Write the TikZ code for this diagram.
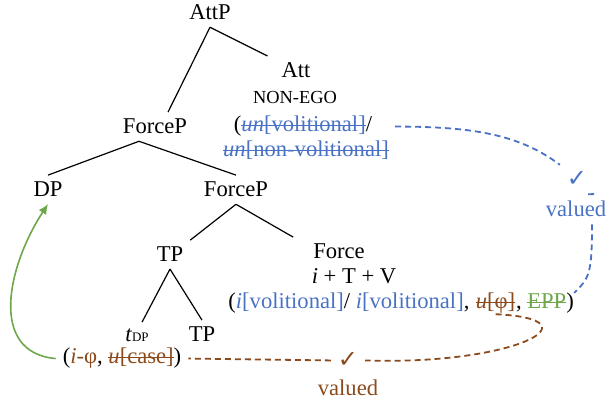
\documentclass[tikz,border=0pt]{standalone}
\usepackage{fontspec}
\setmainfont{Liberation Serif}
\newfontfamily\chkfont{DejaVu Sans}
\usepackage{tikz}
\usetikzlibrary{arrows.meta, calc}
\definecolor{featblue}{HTML}{4A72C4}
\definecolor{featbrown}{HTML}{8B4A1C}
\definecolor{featgreen}{HTML}{6FA84C}
\newcommand{\treefont}{\fontsize{11.3}{13.5}\selectfont}
\newcommand{\egofont}{\fontsize{9.2}{11}\selectfont}
\newcommand{\subfont}{\fontsize{6.5}{7.5}\selectfont}
\newcommand{\checkfont}{\chkfont\fontsize{12}{13}\selectfont}
\newsavebox{\strkbox}
\newcommand{\strk}[1]{\sbox{\strkbox}{#1}\rlap{\usebox{\strkbox}}\rule[0.26em]{\wd\strkbox}{0.45pt}}
\tikzset{
  cat/.style={anchor=base},
  feat/.style={anchor=base west, inner sep=0pt},
  branch/.style={line width=0.6pt},
  agree/.style={dash pattern=on 3pt off 2pt, line width=0.9pt},
  movearr/.style={-{Latex[length=5pt, width=4.5pt]}, line width=0.8pt, featgreen},
}

\begin{document}
\begin{tikzpicture}[x=0.5pt, y=0.5pt, every node/.style={font=\treefont}]
  \useasboundingbox (0,0) rectangle (606,406);

  % AttP and its head
  \node[cat] (attp) at (210,386) {AttP};
  \node[cat] (att) at (296,328) {Att};
  \node[cat, font=\egofont] (ego) at (295,302) {NON-EGO};
  \node[cat] (attf1) at (303,274) {(\textcolor{featblue}{\strk{\textit{un}[volitional]}}/};
  \node[cat] (attf2) at (306,249) {\textcolor{featblue}{\strk{\textit{un}[non-volitional]}}};

  % ForceP level
  \node[cat] (forcep) at (155,272) {ForceP};
  \node[cat] (dp) at (48,209) {DP};
  \node[cat] (forcep2) at (236,209) {ForceP};

  % TP and Force head
  \node[cat] (tp) at (170,144) {TP};
  \node[cat] (force) at (339,147) {Force};
  \node[cat] (itv) at (354,122) {\textit{i} + T + V};
  \node[feat] (ff1) at (228,97) {(\textcolor{featblue}{\textit{i}[volitional]}/ \textcolor{featblue}{\textit{i}[volitional]},\ \mbox{}};
  \node[feat] (uphi) at (ff1.base east) {\textcolor{featbrown}{\strk{\textit{u}[φ]}}};
  \node[feat] (ff3) at (uphi.base east) {,\ \textcolor{featgreen}{\strk{EPP}})};

  % Bottom row
  \node[cat] (tdp) at (137,64) {\textit{t}{\subfont DP}};
  \node[cat] (tp2) at (202,64) {TP};
  \node[cat] (casef) at (122,42) {(\textcolor{featbrown}{\textit{i}-φ}, \textcolor{featbrown}{\strk{\textit{u}[case]}})};

  % Valuation marks
  \node[cat, font=\checkfont, text=featblue] (chk1) at (577,219) {✓};
  \node[cat, text=featblue] (val1) at (576,189) {valued};
  \node[cat, font=\checkfont, text=featbrown] (chk2) at (348,38) {✓};
  \node[cat, text=featbrown] (val2) at (348,10) {valued};

  % Branches
  \draw[branch] (attp.south) -- ([xshift=6.5pt]forcep.north);
  \draw[branch] (attp.south) -- ([xshift=-3.5pt]att.north west);
  \draw[branch] ([xshift=-8pt]forcep.south) -- (dp.north);
  \draw[branch] ([xshift=-8pt]forcep.south) -- (forcep2.north);
  \draw[branch] (forcep2.south) -- (tp.north east);
  \draw[branch] (forcep2.south) -- ([xshift=-6.5pt]force.north west);
  \draw[branch] (tp.south) -- ([xshift=2.5pt]tdp.north);
  \draw[branch] (tp.south) -- (tp2.north);

  % Agreement paths
  \draw[agree, featblue, shorten <=8pt] (attf1.east) .. controls +(95,0) and +(-40,30) .. (chk1.north west);
  \draw[agree, featblue] (chk1.south east) -- ($(val1.north)+(12,0)$);
  \draw[agree, featblue] ($(val1.south)+(16,0)$) .. controls +(0,-50) and +(15,15) .. (ff3.north east);
  \draw[agree, featbrown] (uphi.south) .. controls +(105,-5) and +(150,-5) .. (chk2.east);
  \draw[agree, featbrown] (chk2.west) -- (casef.east);

  % Movement
  \draw[movearr] (casef.west) .. controls +(-68,6) and +(-40,-61) .. (dp.south);
\end{tikzpicture}
\end{document}
